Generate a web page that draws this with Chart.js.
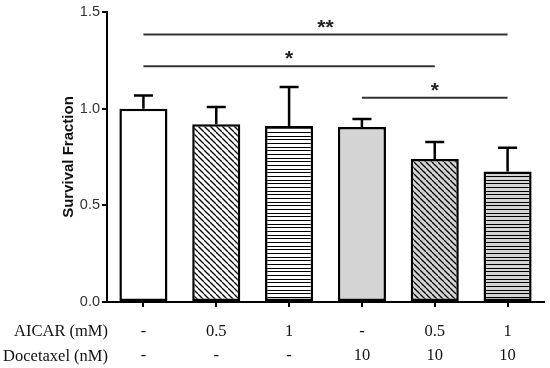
<!DOCTYPE html>
<html>
<head>
<meta charset="utf-8">
<script src="https://cdn.jsdelivr.net/npm/chart.js@4"></script>
<style>
  html, body { margin: 0; padding: 0; background: #fff; }
  #wrap { width: 550px; height: 368px; }
</style>
</head>
<body>
<div id="wrap"><canvas id="myChart"></canvas></div>
<script>
// data
const aicar = ["-", "0.5", "1", "-", "0.5", "1"];
const docetaxel = ["-", "-", "-", "10", "10", "10"];
const survival = [1.00, 0.92, 0.91, 0.905, 0.74, 0.675];
const errorUp = [0.068, 0.088, 0.202, 0.042, 0.088, 0.123];
const yTicks = [0, 0.5, 1.0, 1.5];

// significance brackets
const sigFrom = [0, 0, 3];
const sigTo = [5, 4, 5];
const sigLevel = [1.383, 1.219, 1.057];
const sigMark = ["**", "*", "*"];

const rowNames = ["AICAR (mM)", "Docetaxel (nM)"];

const makePattern = (bg, kind) => {
    const c = document.createElement("canvas");
    const ctx = c.getContext("2d");
    if (kind === "diag") {
        c.width = 6; c.height = 6;
        ctx.fillStyle = bg;
        ctx.fillRect(0, 0, 6, 6);
        ctx.strokeStyle = "#000";
        ctx.lineWidth = 1.3;
        for (let k = -1; k <= 1; k++) {
            ctx.beginPath();
            ctx.moveTo(k * 6, 0);
            ctx.lineTo(k * 6 + 6, 6);
            ctx.stroke();
        }
    } else {
        c.width = 4; c.height = 11;
        ctx.fillStyle = bg;
        ctx.fillRect(0, 0, 4, 11);
        ctx.fillStyle = "#000";
        ctx.fillRect(0, 0, 4, 1);
        ctx.fillRect(0, 4, 4, 1);
        ctx.fillRect(0, 7, 4, 1);
    }
    return document.getElementById("myChart").getContext("2d").createPattern(c, "repeat");
};

const gray = "#d4d4d4";
const fills = [
    "#ffffff",
    makePattern("#ffffff", "diag"),
    makePattern("#ffffff", "horiz"),
    gray,
    makePattern(gray, "diag"),
    makePattern(gray, "horiz")
];

const extras = {
    id: "extras",
    afterDatasetsDraw(chart) {
        const ctx = chart.ctx;
        const y = chart.scales.y;
        const meta = chart.getDatasetMeta(0);
        ctx.save();

        // error bars (upper only)
        ctx.strokeStyle = "#000";
        ctx.lineWidth = 2.5;
        meta.data.forEach((bar, i) => {
            const top = y.getPixelForValue(survival[i]);
            const err = y.getPixelForValue(survival[i] + errorUp[i]);
            ctx.beginPath();
            ctx.moveTo(bar.x, top);
            ctx.lineTo(bar.x, err);
            ctx.moveTo(bar.x - 9.5, err);
            ctx.lineTo(bar.x + 9.5, err);
            ctx.stroke();
        });

        // brackets
        ctx.strokeStyle = "#333";
        ctx.lineWidth = 2;
        ctx.fillStyle = "#222";
        ctx.font = "bold 21px 'Liberation Sans', Arial, sans-serif";
        ctx.textAlign = "center";
        ctx.textBaseline = "alphabetic";
        sigLevel.forEach((lv, k) => {
            const x1 = meta.data[sigFrom[k]].x;
            const x2 = meta.data[sigTo[k]].x;
            const py = y.getPixelForValue(lv);
            ctx.beginPath();
            ctx.moveTo(x1, py);
            ctx.lineTo(x2, py);
            ctx.stroke();
            ctx.fillText(sigMark[k], (x1 + x2) / 2, py - 1);
        });

        // row names under the axis
        ctx.fillStyle = "#111";
        ctx.font = "16.5px 'Liberation Serif', 'Times New Roman', serif";
        ctx.textAlign = "right";
        ctx.textBaseline = "middle";
        const base = chart.chartArea.bottom;
        ctx.fillText(rowNames[0], 108, base + 30);
        ctx.fillText(rowNames[1], 108, base + 55);
        ctx.restore();
    }
};

const config = {
    type: "bar",
    data: {
        labels: aicar.map((a, i) => [a, docetaxel[i]]),
        datasets: [{
            data: survival,
            backgroundColor: fills,
            borderColor: "#000",
            borderWidth: 2.5,
            borderSkipped: false,
            barPercentage: 0.66,
            categoryPercentage: 1.0
        }]
    },
    options: {
        responsive: true,
        maintainAspectRatio: false,
        animation: false,
        layout: { padding: { left: 60, right: 6, top: 12, bottom: 0 } },
        plugins: {
            legend: { display: false },
            tooltip: { enabled: false }
        },
        scales: {
            x: {
                grid: { offset: false, drawOnChartArea: false, drawTicks: true, tickLength: 5, color: "#000", lineWidth: 2 },
                border: { color: "#000", width: 2 },
                ticks: {
                    color: "#111",
                    padding: 12,
                    font: { family: "'Liberation Serif', 'Times New Roman', serif", size: 16.5, lineHeight: 1.5 }
                },
                afterFit: s => { s.height = 66; }
            },
            y: {
                min: 0,
                max: 1.5,
                afterBuildTicks: s => { s.ticks = yTicks.map(v => ({ value: v })); },
                grid: { drawOnChartArea: false, drawTicks: true, tickLength: 5, color: "#000", lineWidth: 2 },
                border: { color: "#000", width: 2 },
                ticks: {
                    color: "#333",
                    padding: 2,
                    font: { family: "'Liberation Sans', Arial, sans-serif", size: 14.5 },
                    callback: v => v.toFixed(1)
                },
                title: {
                    display: true,
                    text: "Survival Fraction",
                    color: "#111",
                    padding: { top: 0, bottom: 0 },
                    font: { family: "'Liberation Sans', Arial, sans-serif", size: 15, weight: "bold" }
                },
                afterFit: s => { s.width = 47; }
            }
        }
    },
    plugins: [extras]
};

const myChart = new Chart(document.getElementById("myChart").getContext("2d"), config);
</script>
</body>
</html>
